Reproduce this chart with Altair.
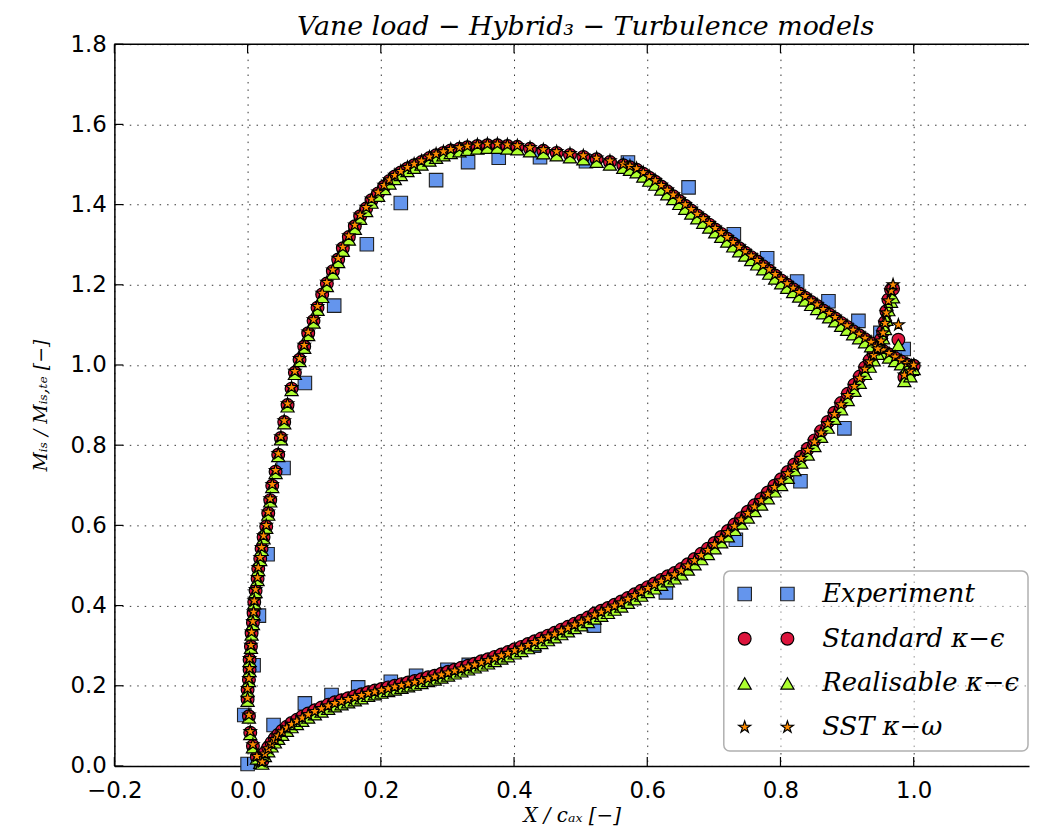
import altair as alt
import pandas as pd

# ---------------- data ----------------
x_ticks = [-0.2, 0.0, 0.2, 0.4, 0.6, 0.8, 1.0]
y_ticks = [0.0, 0.2, 0.4, 0.6, 0.8, 1.0, 1.2, 1.4, 1.6, 1.8]

# Experiment (suction side, pressure side)
exp_ss_x = [0.000, -0.005, 0.009, 0.017, 0.030, 0.054, 0.086, 0.130, 0.179, 0.230,
            0.283, 0.331, 0.377, 0.439, 0.508, 0.571, 0.662, 0.730, 0.780, 0.825,
            0.872, 0.917, 0.950, 0.985]
exp_ss_y = [0.005, 0.127, 0.251, 0.375, 0.528, 0.743, 0.955, 1.148, 1.301, 1.404,
            1.461, 1.506, 1.517, 1.518, 1.508, 1.505, 1.443, 1.326, 1.266, 1.208,
            1.159, 1.110, 1.080, 1.040]
exp_ps_x = [0.039, 0.086, 0.126, 0.166, 0.215, 0.253, 0.300, 0.332, 0.430, 0.520,
            0.628, 0.733, 0.830, 0.896]
exp_ps_y = [0.102, 0.156, 0.177, 0.196, 0.210, 0.225, 0.240, 0.252, 0.300, 0.350,
            0.433, 0.564, 0.710, 0.842]

# CFD, suction side (same surface nodes for the three models)
ss_x = [0.019, 0.014, 0.008, 0.004, 0.002, 0.000, 0.000, 0.002, 0.003, 0.003,
        0.005, 0.006, 0.008, 0.009, 0.010, 0.012, 0.015, 0.016, 0.019, 0.021,
        0.024, 0.028, 0.031, 0.034, 0.037, 0.042, 0.046, 0.050, 0.055, 0.060,
        0.066, 0.071, 0.078, 0.085, 0.091, 0.099, 0.105, 0.112, 0.119, 0.128,
        0.136, 0.143, 0.152, 0.161, 0.169, 0.178, 0.186, 0.196, 0.205, 0.213,
        0.221, 0.230, 0.240, 0.250, 0.261, 0.273, 0.283, 0.294, 0.305, 0.318,
        0.330, 0.345, 0.360, 0.375, 0.390, 0.405, 0.424, 0.444, 0.464, 0.484,
        0.504, 0.524, 0.544, 0.564, 0.574, 0.584, 0.594, 0.603, 0.612, 0.621,
        0.630, 0.639, 0.648, 0.657, 0.666, 0.675, 0.684, 0.693, 0.702, 0.711,
        0.720, 0.729, 0.738, 0.747, 0.756, 0.765, 0.774, 0.783, 0.792, 0.801,
        0.810, 0.819, 0.828, 0.837, 0.846, 0.855, 0.864, 0.873, 0.882, 0.891,
        0.900, 0.909, 0.918, 0.927, 0.936, 0.945, 0.954, 0.963, 0.972, 0.981,
        0.990, 0.997]
ss_y_sst = [0.012, 0.024, 0.053, 0.086, 0.127, 0.169, 0.193, 0.218, 0.243, 0.268,
            0.301, 0.334, 0.360, 0.384, 0.412, 0.440, 0.470, 0.495, 0.520, 0.545,
            0.574, 0.600, 0.633, 0.666, 0.702, 0.737, 0.779, 0.821, 0.861, 0.903,
            0.944, 0.984, 1.016, 1.049, 1.082, 1.113, 1.146, 1.179, 1.206, 1.237,
            1.266, 1.294, 1.322, 1.349, 1.374, 1.393, 1.414, 1.431, 1.448, 1.462,
            1.473, 1.483, 1.493, 1.501, 1.509, 1.519, 1.526, 1.532, 1.538, 1.542,
            1.546, 1.549, 1.551, 1.551, 1.549, 1.547, 1.542, 1.537, 1.532, 1.527,
            1.522, 1.516, 1.509, 1.501, 1.496, 1.490, 1.480, 1.470, 1.460, 1.448,
            1.436, 1.424, 1.412, 1.400, 1.388, 1.376, 1.365, 1.353, 1.341, 1.330,
            1.318, 1.306, 1.294, 1.283, 1.272, 1.261, 1.249, 1.238, 1.226, 1.214,
            1.203, 1.192, 1.181, 1.171, 1.160, 1.150, 1.139, 1.129, 1.119, 1.108,
            1.098, 1.087, 1.077, 1.067, 1.057, 1.047, 1.038, 1.029, 1.020, 1.012,
            1.004, 0.998]
ss_y_std = [0.010, 0.022, 0.050, 0.083, 0.124, 0.166, 0.190, 0.215, 0.240, 0.265,
            0.298, 0.331, 0.357, 0.381, 0.409, 0.437, 0.467, 0.492, 0.517, 0.542,
            0.571, 0.597, 0.630, 0.663, 0.699, 0.734, 0.776, 0.818, 0.858, 0.900,
            0.941, 0.981, 1.013, 1.046, 1.079, 1.110, 1.143, 1.176, 1.203, 1.234,
            1.263, 1.291, 1.319, 1.346, 1.371, 1.390, 1.411, 1.428, 1.445, 1.459,
            1.470, 1.480, 1.490, 1.498, 1.506, 1.516, 1.523, 1.529, 1.535, 1.539,
            1.543, 1.546, 1.548, 1.548, 1.546, 1.544, 1.539, 1.534, 1.529, 1.524,
            1.519, 1.513, 1.506, 1.498, 1.493, 1.487, 1.477, 1.467, 1.457, 1.445,
            1.433, 1.421, 1.409, 1.397, 1.385, 1.373, 1.362, 1.350, 1.338, 1.327,
            1.315, 1.303, 1.291, 1.280, 1.269, 1.258, 1.246, 1.235, 1.223, 1.211,
            1.200, 1.189, 1.178, 1.168, 1.157, 1.147, 1.136, 1.126, 1.116, 1.105,
            1.095, 1.084, 1.074, 1.064, 1.054, 1.044, 1.035, 1.026, 1.017, 1.009,
            1.001, 0.995]
ss_y_rea = [0.008, 0.019, 0.047, 0.080, 0.121, 0.163, 0.187, 0.212, 0.237, 0.262,
            0.295, 0.328, 0.354, 0.378, 0.406, 0.434, 0.464, 0.489, 0.514, 0.539,
            0.568, 0.594, 0.627, 0.660, 0.696, 0.731, 0.773, 0.815, 0.855, 0.897,
            0.938, 0.978, 1.010, 1.043, 1.075, 1.106, 1.138, 1.170, 1.197, 1.228,
            1.257, 1.285, 1.313, 1.340, 1.365, 1.384, 1.405, 1.422, 1.439, 1.453,
            1.464, 1.474, 1.484, 1.492, 1.500, 1.510, 1.517, 1.523, 1.529, 1.533,
            1.537, 1.540, 1.542, 1.542, 1.540, 1.538, 1.533, 1.528, 1.523, 1.518,
            1.513, 1.507, 1.500, 1.492, 1.487, 1.481, 1.470, 1.460, 1.450, 1.438,
            1.426, 1.414, 1.402, 1.390, 1.378, 1.366, 1.355, 1.343, 1.331, 1.320,
            1.308, 1.296, 1.284, 1.273, 1.262, 1.251, 1.239, 1.228, 1.216, 1.204,
            1.193, 1.182, 1.171, 1.161, 1.150, 1.140, 1.129, 1.119, 1.109, 1.098,
            1.088, 1.077, 1.067, 1.057, 1.047, 1.037, 1.028, 1.019, 1.010, 1.002,
            0.994, 0.988]

# CFD, pressure side
ps_x = [0.022, 0.026, 0.031, 0.036, 0.041, 0.046, 0.052, 0.059, 0.066, 0.074,
        0.082, 0.091, 0.101, 0.111, 0.121, 0.131, 0.141, 0.151, 0.161, 0.171,
        0.181, 0.191, 0.201, 0.211, 0.221, 0.231, 0.241, 0.251, 0.261, 0.271,
        0.281, 0.291, 0.301, 0.311, 0.321, 0.331, 0.341, 0.351, 0.361, 0.371,
        0.381, 0.391, 0.401, 0.411, 0.421, 0.431, 0.441, 0.451, 0.461, 0.471,
        0.481, 0.491, 0.501, 0.511, 0.521, 0.531, 0.541, 0.551, 0.561, 0.571,
        0.581, 0.591, 0.601, 0.611, 0.621, 0.631, 0.641, 0.651, 0.661, 0.671,
        0.681, 0.691, 0.701, 0.711, 0.721, 0.731, 0.741, 0.751, 0.761, 0.771,
        0.781, 0.791, 0.801, 0.811, 0.821, 0.831, 0.841, 0.851, 0.861, 0.871,
        0.881, 0.891, 0.901, 0.911, 0.919, 0.927, 0.934, 0.940, 0.946, 0.951,
        0.954, 0.957, 0.959, 0.962, 0.966, 0.969, 0.977, 0.986, 0.995, 1.000]
ps_y_sst = [0.010, 0.030, 0.043, 0.055, 0.066, 0.075, 0.085, 0.095, 0.104, 0.112,
            0.120, 0.128, 0.136, 0.143, 0.150, 0.156, 0.161, 0.166, 0.171, 0.176,
            0.181, 0.185, 0.189, 0.193, 0.197, 0.201, 0.205, 0.209, 0.213, 0.218,
            0.222, 0.227, 0.232, 0.237, 0.242, 0.247, 0.252, 0.258, 0.263, 0.269,
            0.275, 0.281, 0.288, 0.294, 0.301, 0.308, 0.315, 0.322, 0.329, 0.337,
            0.344, 0.352, 0.359, 0.367, 0.377, 0.384, 0.391, 0.399, 0.407, 0.416,
            0.425, 0.434, 0.443, 0.452, 0.461, 0.470, 0.477, 0.487, 0.499, 0.512,
            0.525, 0.538, 0.552, 0.567, 0.582, 0.598, 0.614, 0.630, 0.646, 0.662,
            0.678, 0.695, 0.711, 0.729, 0.748, 0.767, 0.787, 0.808, 0.831, 0.854,
            0.877, 0.901, 0.924, 0.947, 0.967, 0.990, 1.008, 1.024, 1.040, 1.060,
            1.080, 1.104, 1.130, 1.160, 1.185, 1.200, 1.100, 0.975, 0.985, 1.000]
ps_y_std = [0.012, 0.033, 0.046, 0.058, 0.069, 0.078, 0.088, 0.098, 0.107, 0.115,
            0.123, 0.131, 0.139, 0.146, 0.153, 0.159, 0.164, 0.169, 0.174, 0.179,
            0.184, 0.188, 0.192, 0.196, 0.200, 0.204, 0.208, 0.212, 0.216, 0.221,
            0.225, 0.230, 0.235, 0.240, 0.245, 0.250, 0.255, 0.261, 0.266, 0.272,
            0.278, 0.284, 0.291, 0.297, 0.304, 0.311, 0.318, 0.325, 0.332, 0.340,
            0.347, 0.355, 0.362, 0.370, 0.380, 0.387, 0.394, 0.402, 0.410, 0.419,
            0.428, 0.437, 0.446, 0.455, 0.464, 0.473, 0.481, 0.491, 0.503, 0.516,
            0.529, 0.542, 0.556, 0.571, 0.586, 0.602, 0.618, 0.634, 0.650, 0.666,
            0.682, 0.699, 0.715, 0.733, 0.752, 0.771, 0.791, 0.812, 0.835, 0.858,
            0.881, 0.905, 0.928, 0.951, 0.971, 0.994, 1.012, 1.028, 1.044, 1.064,
            1.083, 1.107, 1.134, 1.163, 1.188, 1.190, 1.063, 0.970, 0.982, 0.998]
ps_y_rea = [0.006, 0.025, 0.037, 0.049, 0.059, 0.068, 0.078, 0.088, 0.097, 0.105,
            0.113, 0.121, 0.129, 0.136, 0.143, 0.149, 0.154, 0.159, 0.164, 0.169,
            0.175, 0.179, 0.183, 0.187, 0.191, 0.195, 0.199, 0.203, 0.207, 0.212,
            0.216, 0.221, 0.226, 0.231, 0.236, 0.241, 0.246, 0.251, 0.256, 0.262,
            0.268, 0.274, 0.281, 0.287, 0.294, 0.301, 0.307, 0.314, 0.321, 0.329,
            0.336, 0.344, 0.351, 0.359, 0.368, 0.375, 0.382, 0.390, 0.398, 0.407,
            0.416, 0.425, 0.434, 0.443, 0.452, 0.461, 0.468, 0.478, 0.490, 0.503,
            0.516, 0.529, 0.543, 0.558, 0.573, 0.589, 0.605, 0.620, 0.636, 0.652,
            0.668, 0.685, 0.701, 0.719, 0.738, 0.757, 0.777, 0.798, 0.821, 0.844,
            0.866, 0.890, 0.913, 0.936, 0.956, 0.978, 0.996, 1.012, 1.028, 1.047,
            1.067, 1.090, 1.113, 1.137, 1.158, 1.169, 1.050, 0.960, 0.972, 0.990]

legend_labels = ["Experiment", "Standard κ−ϵ", "Realisable κ−ϵ", "SST κ−ω"]

# ---------------- layout / style ----------------
W, H = 920, 726
xs = alt.Scale(domain=[-0.2, 1.1731], nice=False, zero=False)
ys = alt.Scale(domain=[0.0, 1.8], nice=False, zero=False)

STAR = ("M0,-1L0.2245,-0.309L0.951,-0.309L0.363,0.118L0.588,0.809L0,0.382"
        "L-0.588,0.809L-0.363,0.118L-0.951,-0.309L-0.2245,-0.309Z")
STYLES = [
    dict(shape="square", size=185, fill="#6495ED", stroke="#202020", sw=1.1),
    dict(shape="circle", size=165, fill="#DC143C", stroke="black", sw=1.2),
    dict(shape="triangle-up", size=175, fill="#ADFF2F", stroke="black", sw=1.2),
    dict(shape=STAR, size=160, fill="#FF8C00", stroke="black", sw=1.2),
]

x_axis = alt.Axis(values=x_ticks, format=".1f", title="X / cₐₓ  [−]",
                  labelPadding=14, titlePadding=3, titleFontSize=20)
y_axis = alt.Axis(values=y_ticks, format=".1f", title="Mᵢₛ / Mᵢₛ,ₜₑ  [−]",
                  labelPadding=8, titlePadding=20)


def frame(xv, yv):
    return pd.DataFrame({"x": xv, "y": yv})


def points(df, st):
    return alt.Chart(df).mark_point(
        shape=st["shape"], size=st["size"], filled=True, fill=st["fill"],
        stroke=st["stroke"], strokeWidth=st["sw"], opacity=1
    ).encode(
        x=alt.X("x:Q", scale=xs, axis=x_axis),
        y=alt.Y("y:Q", scale=ys, axis=y_axis),
    )


series = [
    frame(exp_ss_x + exp_ps_x, exp_ss_y + exp_ps_y),
    frame(ss_x + ps_x, ss_y_std + ps_y_std),
    frame(ss_x + ps_x, ss_y_rea + ps_y_rea),
    frame(ss_x + ps_x, ss_y_sst + ps_y_sst),
]

layers = [points(df, st) for df, st in zip(series, STYLES)]

# inward ticks (matplotlib style) and top spine
xt = pd.DataFrame({"x": x_ticks})
yt = pd.DataFrame({"y": y_ticks})
TL = 9
layers.append(alt.Chart(xt).mark_rule(color="black", strokeWidth=1.2).encode(
    x=alt.X("x:Q", scale=xs, axis=x_axis), y=alt.value(H), y2=alt.value(H - TL)))
layers.append(alt.Chart(xt).mark_rule(color="black", strokeWidth=1.2).encode(
    x=alt.X("x:Q", scale=xs, axis=x_axis), y=alt.value(0), y2=alt.value(TL)))
layers.append(alt.Chart(yt).mark_rule(color="black", strokeWidth=1.2).encode(
    y=alt.Y("y:Q", scale=ys, axis=y_axis), x=alt.value(0), x2=alt.value(TL)))
layers.append(alt.Chart(pd.DataFrame({"a": [0]})).mark_rule(
    color="black", strokeWidth=1.5).encode(
    x=alt.value(0), x2=alt.value(W), y=alt.value(0)))

# legend (two markers per entry, as in the original)
layers.append(alt.Chart(pd.DataFrame({"a": [0]})).mark_rect(
    fill="white", fillOpacity=0.45, stroke="#b0b0b0", strokeWidth=1.5,
    cornerRadius=6).encode(
    x=alt.value(613), x2=alt.value(919), y=alt.value(530), y2=alt.value(711)))
rows_y = [553, 598, 643, 687]
for lab, st, ry in zip(legend_labels, STYLES, rows_y):
    one = pd.DataFrame({"label": [lab]})
    for mx in (634, 677):
        layers.append(alt.Chart(one).mark_point(
            shape=st["shape"], size=st["size"], filled=True, fill=st["fill"],
            stroke=st["stroke"], strokeWidth=st["sw"], opacity=1
        ).encode(x=alt.value(mx), y=alt.value(ry)))
    layers.append(alt.Chart(one).mark_text(
        align="left", baseline="middle", font="DejaVu Serif",
        fontStyle="italic", fontSize=26, color="black"
    ).encode(x=alt.value(712), y=alt.value(ry), text="label:N"))

chart = alt.layer(*layers).properties(
    width=W, height=H,
    autosize=alt.AutoSizeParams(type="none"),
    padding={"left": 107, "top": 34, "right": 1, "bottom": 60},
    title=alt.TitleParams(
        text="Vane load − Hybrid₃ − Turbulence models",
        font="DejaVu Serif", fontStyle="italic", fontWeight="normal",
        fontSize=27, color="black", anchor="middle", frame="group",
        dx=14, dy=14, offset=6),
).configure_view(strokeWidth=0).configure_axis(
    grid=True, gridColor="#333333", gridDash=[1.5, 6], gridWidth=1,
    domainColor="black", domainWidth=1.5, ticks=False, tickSize=0,
    labelFont="DejaVu Sans", labelFontSize=23, labelColor="black",
    labelFlush=False, labelOverlap=False,
    titleFont="DejaVu Serif", titleFontStyle="italic", titleFontWeight="normal",
    titleFontSize=19, titleColor="black",
)

chart.save("out.html", embed_options={"renderer": "svg", "actions": False})
